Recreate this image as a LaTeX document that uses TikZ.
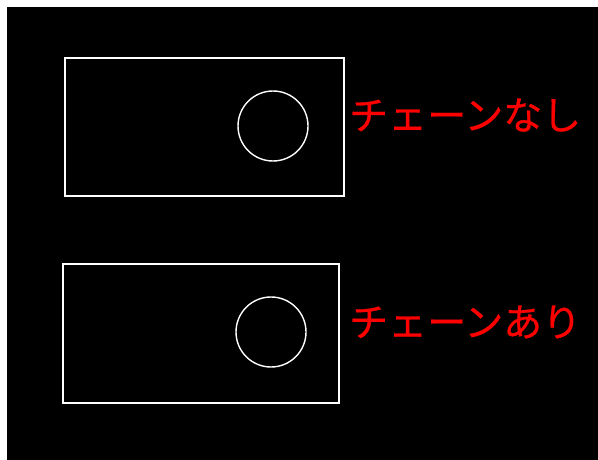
\documentclass[tikz,border=0pt]{standalone}
\usepackage{fontspec}
\newfontfamily\cjk[FakeBold=0.6]{Noto Sans CJK JP}
\begin{document}
\begin{tikzpicture}[x=1pt,y=-1pt,
  outline/.style={draw=white,line width=1.4pt},
  label/.style={text=red,font=\cjk\fontsize{39}{42}\selectfont,anchor=west,inner sep=0pt}]
\useasboundingbox (0,0) rectangle (598,460);
\fill[white] (0,0) rectangle (598,460);
\fill[black] (7,7) rectangle (598,460);
\draw[outline] (65,58) rectangle (344,196);
\draw[outline] (273,126) circle (35);
\node[label] (t1) at (349,115) {チェーンなし};
\draw[outline] (63,264) rectangle (339,403);
\draw[outline] (271,332) circle (35);
\node[label] (t2) at (349,322) {チェーンあり};
\end{tikzpicture}
\end{document}
